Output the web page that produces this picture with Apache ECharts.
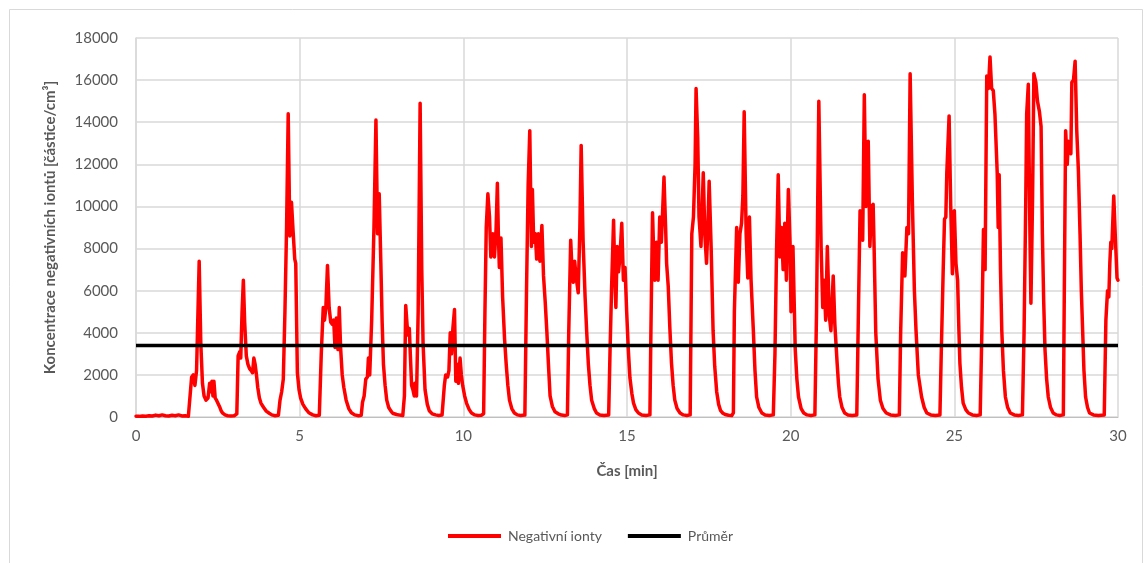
<!DOCTYPE html>
<html>
<head>
<meta charset="utf-8">
<script src="https://cdn.jsdelivr.net/npm/echarts@6/dist/echarts.min.js"></script>
<style>html,body{margin:0;padding:0;background:#fff;}#c{width:1148px;height:563px;}</style>
</head>
<body>
<div id="c"></div>
<script>
// time in minutes
var timeMin = [
0,0.1,0.2,0.3,0.4,0.5,0.6,0.7,0.8,0.9,1.0,1.1,1.2,1.3,1.4,1.5,1.6,1.66,
1.7,1.75,1.8,1.85,1.93,1.98,2.03,2.08,2.14,2.2,2.25,2.28,2.32,2.35,2.38,2.42,2.46,2.5,2.55,2.6,2.65,2.72,2.8,2.9,3.0,3.08,
3.12,3.17,3.2,3.24,3.28,3.32,3.37,3.42,3.47,3.52,3.56,3.6,3.64,3.68,3.72,3.77,3.82,3.9,3.98,4.07,4.15,4.25,4.35,
4.4,4.45,4.5,4.55,4.6,4.65,4.7,4.75,4.8,4.85,4.88,4.93,4.98,5.03,5.1,5.18,5.28,5.4,5.5,5.6,
5.66,5.72,5.76,5.8,5.85,5.9,5.95,6.0,6.04,6.08,6.12,6.17,6.21,6.25,6.3,6.35,6.42,6.5,6.58,6.68,6.8,6.88,
6.92,6.97,7.02,7.07,7.1,7.14,7.2,7.27,7.33,7.38,7.43,7.48,7.52,7.56,7.61,7.66,7.72,7.78,7.84,7.9,7.96,8.05,8.15,
8.2,8.24,8.28,8.31,8.35,8.38,8.42,8.46,8.5,8.52,8.57,8.62,8.68,8.73,8.77,8.83,8.9,8.96,9.05,9.15,9.25,9.35,
9.42,9.46,9.52,9.56,9.6,9.64,9.68,9.73,9.77,9.81,9.85,9.9,9.94,9.98,10.04,10.1,10.18,10.25,10.35,10.45,10.55,10.62,
10.66,10.7,10.75,10.8,10.84,10.9,10.95,11.0,11.04,11.07,11.1,11.15,11.2,11.26,11.31,11.36,11.41,11.48,11.56,11.65,11.75,11.88,
11.93,11.98,12.03,12.08,12.11,12.15,12.2,12.24,12.29,12.34,12.4,12.45,12.5,12.55,12.6,12.65,12.72,12.8,12.9,13.0,13.1,13.18,
13.22,13.28,13.32,13.36,13.4,13.45,13.51,13.56,13.6,13.66,13.72,13.77,13.82,13.87,13.92,14.0,14.07,14.17,14.3,14.44,
14.48,14.53,14.59,14.63,14.66,14.7,14.74,14.78,14.84,14.89,14.94,14.99,15.04,15.09,15.15,15.2,15.27,15.35,15.45,15.58,15.7,
15.73,15.78,15.82,15.85,15.9,15.95,16.0,16.05,16.13,16.18,16.21,16.26,16.31,16.36,16.41,16.46,16.53,16.62,16.72,16.83,16.93,
16.98,17.03,17.08,17.11,17.16,17.2,17.26,17.33,17.38,17.43,17.47,17.51,17.57,17.63,17.68,17.74,17.8,17.86,17.93,18.0,18.1,18.2,18.25,
18.28,18.35,18.4,18.45,18.5,18.54,18.58,18.64,18.69,18.74,18.79,18.86,18.91,18.96,19.03,19.12,19.22,19.35,19.47,
19.52,19.57,19.62,19.67,19.72,19.77,19.82,19.87,19.93,19.98,20.01,20.07,20.14,20.19,20.24,20.32,20.4,20.5,20.62,20.74,
20.79,20.86,20.93,20.98,21.02,21.07,21.12,21.18,21.23,21.3,21.35,21.42,21.46,21.5,21.57,21.65,21.75,21.88,22.02,
22.07,22.12,22.17,22.2,22.25,22.3,22.33,22.37,22.42,22.47,22.52,22.55,22.6,22.67,22.74,22.82,22.92,23.05,23.2,23.32,
23.36,23.42,23.46,23.49,23.55,23.6,23.65,23.72,23.78,23.83,23.9,24.0,24.08,24.16,24.28,24.42,24.56,
24.6,24.66,24.7,24.74,24.77,24.84,24.89,24.94,25.0,25.05,25.1,25.14,25.17,25.22,25.27,25.35,25.43,25.55,25.68,25.79,
25.84,25.89,25.94,25.99,26.04,26.09,26.14,26.19,26.24,26.31,26.34,26.37,26.41,26.45,26.5,26.56,26.63,26.71,26.83,26.96,27.08,
27.13,27.18,27.21,27.26,27.31,27.34,27.39,27.43,27.49,27.54,27.6,27.65,27.69,27.73,27.77,27.82,27.87,27.94,28.02,28.12,28.22,28.33,
28.36,28.4,28.45,28.48,28.52,28.56,28.59,28.64,28.69,28.74,28.79,28.84,28.88,28.92,28.96,29.01,29.07,29.13,29.25,29.4,29.58,
29.63,29.68,29.72,29.75,29.78,29.81,29.87,29.92,29.97,30.0
];
// negative ion concentration [particles/cm3]
var negIons = [
40,30,50,40,60,50,90,60,100,60,50,80,60,100,50,60,40,80,
1900,2000,1500,2200,7400,3500,1600,1000,800,900,1600,1200,1700,1000,1700,900,800,800,500,300,180,100,60,50,60,150,
2900,3100,2800,5000,6500,4500,2900,2500,2300,2200,2100,2800,2500,2000,1400,900,650,450,280,180,100,60,80,
800,1200,1800,5000,9000,14400,8600,10200,8800,7500,7300,2100,1300,900,600,400,200,100,60,80,
3000,5200,4600,5200,7200,5200,4500,4400,4600,3300,4700,3200,5200,3300,2000,1400,800,400,200,100,60,80,
700,1000,1800,1900,2800,2000,4600,9000,14100,8700,10600,7300,4500,2500,1500,800,450,300,180,150,120,90,70,
1000,5300,4400,3900,4200,3000,1500,1300,1000,1600,1000,5000,14900,7000,3500,1300,600,300,150,100,70,90,
1500,2000,1900,2200,4000,3000,4200,5100,1700,2500,1600,2800,2000,1500,1000,650,350,190,100,70,80,150,
5000,9000,10600,9500,7600,8700,7600,8900,11100,8700,7100,8500,5700,3700,2500,1500,800,400,190,100,70,90,
6000,11000,13600,8100,10800,8300,8700,7500,8700,7400,9100,6700,5500,4100,2500,1000,500,250,150,90,70,100,
4000,8400,7000,6400,7400,6600,5900,9000,12900,8300,5700,4000,2500,1500,800,400,190,100,70,100,
3000,6200,9350,6500,5200,8100,6900,7500,9200,6500,7100,5000,3200,1850,1100,660,350,190,100,70,100,
4000,9700,7500,6500,8300,6500,9500,8300,11400,9000,7300,6200,4200,2550,1500,800,400,190,100,70,100,
8700,9500,12000,15600,13300,9500,8100,11600,8600,7300,9000,11200,8100,4100,2400,1200,600,300,180,120,80,70,200,
5000,9000,6400,8700,9200,10500,14500,8700,6600,9500,6500,4100,2200,950,450,190,100,70,100,
3000,8000,11500,7600,9000,7000,9200,6500,10800,8300,5000,8100,3200,1800,950,400,190,100,70,100,
5000,15000,8100,5200,6500,4600,8100,4800,4100,6700,4400,2550,1600,950,450,190,100,70,100,
5000,9800,9000,8400,15300,10000,10100,13100,8100,10000,10100,8000,4000,1800,800,400,190,100,70,100,
4000,7800,7700,6700,9000,8700,16300,10100,6000,4100,2000,950,450,190,100,70,100,
3000,7000,9400,9500,11600,14300,10000,6800,9800,7300,6500,4100,2550,1400,660,350,190,100,70,100,
4000,8900,7000,16200,15600,17100,15600,15500,14400,11600,9000,11500,7000,4100,2200,950,450,190,100,70,100,
4000,10000,14400,15800,8700,5400,10400,16300,15900,15000,14500,13800,8700,5500,3200,1800,950,450,190,100,70,100,
6000,13600,12000,13100,12700,12500,15900,16000,16900,13600,11700,8700,6000,4100,2200,950,450,190,100,70,100,
4600,6000,5700,7300,8300,8000,10500,8500,6600,6500
];
var meanValue = 3400;
var meanTimes = [0, 30];
var xTicks = [0, 5, 10, 15, 20, 25, 30];
var yTicks = [0, 2000, 4000, 6000, 8000, 10000, 12000, 14000, 16000, 18000];

var ionData = timeMin.map(function (t, i) { return [t, negIons[i]]; });
var meanData = meanTimes.map(function (t) { return [t, meanValue]; });

var txt = '#595959';
var font = 'Lato, "Open Sans", sans-serif';
var chart = echarts.init(document.getElementById('c'));
chart.setOption({
  animation: false,
  backgroundColor: '#fff',
  textStyle: { fontFamily: font },
  graphic: [{
    type: 'rect', left: 7, top: 7, z: -1,
    shape: { width: 1133, height: 570 },
    style: { fill: 'none', stroke: '#d9d9d9', lineWidth: 1 }
  }],
  grid: { left: 136, right: 30, top: 38, bottom: 146, containLabel: false },
  xAxis: {
    type: 'value', min: xTicks[0], max: xTicks[xTicks.length - 1], interval: 5,
    name: 'Čas [min]', nameLocation: 'middle', nameGap: 47,
    nameTextStyle: { color: txt, fontSize: 15, fontWeight: 'bold', fontFamily: font },
    axisLine: { show: true, lineStyle: { color: '#bfbfbf', width: 1 } },
    axisTick: { show: false },
    axisLabel: { color: txt, fontSize: 15, margin: 12, fontFamily: font },
    splitLine: { show: true, lineStyle: { color: '#d9d9d9', width: 1.5 } }
  },
  yAxis: {
    type: 'value', min: yTicks[0], max: yTicks[yTicks.length - 1], interval: 2000,
    name: 'Koncentrace negativních iontů [částice/cm³]', nameLocation: 'middle', nameRotate: 90, nameGap: 78,
    nameTextStyle: { color: txt, fontSize: 15, fontWeight: 'bold', fontFamily: font },
    axisLine: { show: true, lineStyle: { color: '#d9d9d9', width: 1.5 } },
    axisTick: { show: false },
    axisLabel: { color: txt, fontSize: 15, margin: 18, fontFamily: font, formatter: function (v) { return String(v); } },
    splitLine: { show: true, lineStyle: { color: '#d9d9d9', width: 1.5 } }
  },
  legend: {
    left: 443, top: 524, itemWidth: 53, itemHeight: 4, itemGap: 26, icon: 'rect',
    textStyle: { color: txt, fontSize: 14, fontFamily: font, padding: [0, 0, 0, 2] },
    data: ['Negativní ionty', 'Průměr']
  },
  series: [
    {
      name: 'Negativní ionty', type: 'line', data: ionData, showSymbol: false, symbol: 'none',
      lineStyle: { color: '#ff0000', width: 3.5, join: 'round', cap: 'round' },
      itemStyle: { color: '#ff0000' }, z: 3
    },
    {
      name: 'Průměr', type: 'line', data: meanData, showSymbol: false, symbol: 'none',
      lineStyle: { color: '#000000', width: 3.5 },
      itemStyle: { color: '#000000' }, z: 4
    }
  ]
});
</script>
</body>
</html>
